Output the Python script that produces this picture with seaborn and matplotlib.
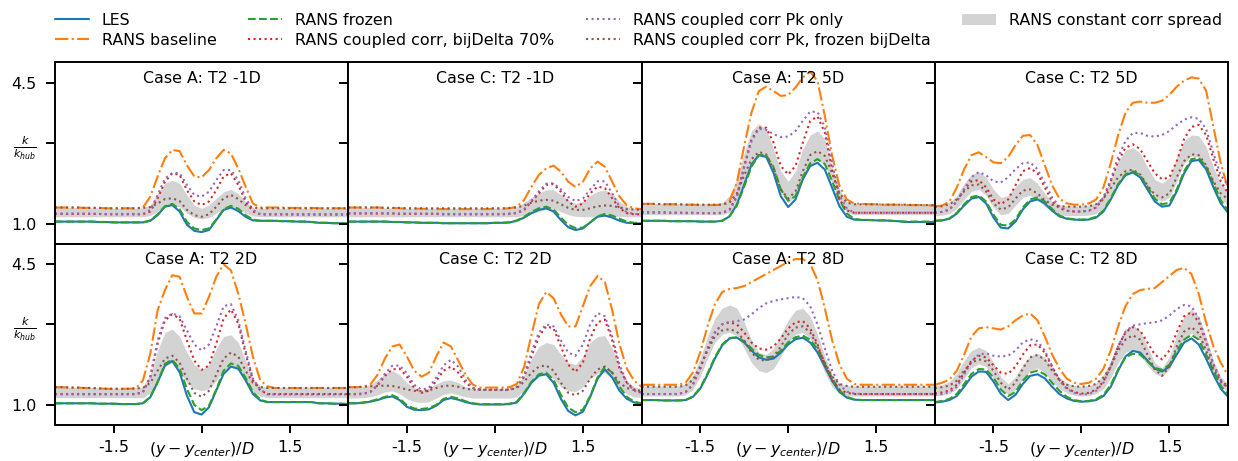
import numpy as np
import matplotlib
matplotlib.use("Agg")
import matplotlib.pyplot as plt
import seaborn as sns

# ---------------- data ----------------
X = np.linspace(-2.5, 2.5, 41)

TITLES = ["Case A: T2 -1D", "Case C: T2 -1D", "Case A: T2 5D", "Case C: T2 5D",
          "Case A: T2 2D", "Case C: T2 2D", "Case A: T2 8D", "Case C: T2 8D"]

SERIES = ["LES", "RANS baseline", "RANS frozen", "RANS coupled corr, bijDelta 70%",
          "RANS coupled corr Pk only", "RANS coupled corr Pk, frozen bijDelta"]
SPREAD_LABEL = "RANS constant corr spread"

# Panel 1: Case A, T2 -1D
A_M1_LES = [1.05,1.05,1.05,1.05,1.05,1.05,1.04,1.04,1.03,1.03,1.03,1.03,1.03,1.07,1.21,1.42,1.46,1.30,0.97,0.82,0.79,0.84,1.09,1.34,1.40,1.31,1.17,1.08,1.07,1.07,1.07,1.06,1.06,1.05,1.05,1.04,1.02,1.02,1.01,1.01,1.00]
A_M1_BASE = [1.40,1.40,1.40,1.40,1.39,1.39,1.39,1.38,1.38,1.38,1.38,1.38,1.40,1.67,2.17,2.62,2.83,2.80,2.45,2.17,2.15,2.33,2.62,2.83,2.74,2.37,1.92,1.50,1.40,1.40,1.40,1.40,1.39,1.39,1.39,1.39,1.38,1.38,1.38,1.38,1.38]
A_M1_FROZ = [1.05,1.05,1.05,1.05,1.05,1.05,1.04,1.04,1.03,1.03,1.03,1.03,1.03,1.08,1.23,1.43,1.49,1.36,1.04,0.88,0.84,0.88,1.10,1.36,1.44,1.37,1.21,1.10,1.07,1.07,1.07,1.06,1.06,1.05,1.05,1.04,1.02,1.02,1.01,1.01,1.00]
A_M1_BIJ = [1.24,1.24,1.24,1.24,1.24,1.24,1.24,1.23,1.23,1.23,1.23,1.23,1.23,1.30,1.63,2.04,2.25,2.21,1.83,1.55,1.46,1.55,1.83,2.17,2.25,1.96,1.55,1.30,1.23,1.23,1.23,1.23,1.23,1.23,1.23,1.23,1.23,1.23,1.23,1.23,1.23]
A_M1_PK = [1.25,1.25,1.25,1.25,1.25,1.25,1.24,1.24,1.24,1.24,1.24,1.24,1.24,1.34,1.71,2.12,2.26,2.25,1.96,1.71,1.67,1.79,2.08,2.33,2.33,2.08,1.63,1.34,1.23,1.23,1.23,1.23,1.23,1.22,1.22,1.22,1.22,1.22,1.22,1.22,1.22]
A_M1_PKF = [1.40,1.40,1.40,1.40,1.39,1.39,1.39,1.38,1.38,1.38,1.38,1.38,1.39,1.41,1.50,1.61,1.63,1.56,1.34,1.21,1.17,1.23,1.42,1.63,1.71,1.61,1.46,1.40,1.38,1.38,1.38,1.38,1.38,1.38,1.38,1.38,1.38,1.38,1.38,1.38,1.38]
A_M1_LO = [1.17,1.17,1.17,1.17,1.17,1.17,1.17,1.17,1.17,1.17,1.17,1.17,1.17,1.20,1.30,1.42,1.46,1.42,1.26,1.15,1.12,1.15,1.26,1.38,1.42,1.38,1.26,1.19,1.17,1.17,1.17,1.17,1.17,1.17,1.17,1.17,1.17,1.17,1.17,1.17,1.17]
A_M1_HI = [1.40,1.40,1.40,1.40,1.39,1.39,1.39,1.38,1.38,1.38,1.38,1.38,1.39,1.46,1.75,2.00,2.08,2.00,1.71,1.46,1.38,1.46,1.63,1.79,1.85,1.75,1.55,1.40,1.38,1.38,1.38,1.38,1.38,1.38,1.38,1.38,1.38,1.38,1.38,1.38,1.38]

# Panel 2: Case C, T2 -1D
C_M1_LES = [1.05,1.05,1.05,1.05,1.05,1.05,1.04,1.04,1.03,1.03,1.02,1.02,1.02,1.01,1.01,1.01,1.01,1.01,1.01,1.01,1.02,1.02,1.03,1.07,1.15,1.26,1.34,1.38,1.30,1.09,0.91,0.84,0.88,1.03,1.17,1.20,1.15,1.07,1.02,1.01,1.00]
C_M1_BASE = [1.40,1.40,1.40,1.40,1.40,1.39,1.39,1.38,1.37,1.37,1.37,1.36,1.36,1.36,1.36,1.36,1.36,1.36,1.36,1.36,1.37,1.37,1.38,1.42,1.59,1.92,2.21,2.37,2.44,2.29,2.04,1.91,2.04,2.37,2.54,2.41,2.04,1.67,1.45,1.38,1.36]
C_M1_FROZ = [1.05,1.05,1.05,1.05,1.05,1.05,1.04,1.04,1.03,1.03,1.02,1.02,1.02,1.01,1.01,1.01,1.01,1.01,1.01,1.01,1.02,1.02,1.03,1.08,1.17,1.29,1.38,1.42,1.35,1.15,0.97,0.89,0.90,1.03,1.18,1.24,1.20,1.12,1.05,1.02,1.01]
C_M1_BIJ = [1.25,1.25,1.25,1.25,1.25,1.25,1.25,1.24,1.24,1.24,1.24,1.24,1.24,1.23,1.23,1.23,1.23,1.23,1.23,1.23,1.23,1.23,1.24,1.26,1.34,1.55,1.75,1.96,1.98,1.79,1.55,1.42,1.50,1.75,1.92,1.88,1.63,1.38,1.26,1.23,1.23]
C_M1_PK = [1.26,1.26,1.26,1.26,1.26,1.26,1.26,1.25,1.25,1.25,1.25,1.25,1.25,1.24,1.24,1.24,1.24,1.24,1.24,1.24,1.24,1.24,1.25,1.27,1.36,1.58,1.80,1.99,2.00,1.85,1.66,1.56,1.62,1.85,2.05,2.05,1.75,1.42,1.28,1.24,1.23]
C_M1_PKF = [1.40,1.40,1.40,1.40,1.40,1.39,1.39,1.39,1.38,1.38,1.38,1.38,1.38,1.38,1.38,1.38,1.38,1.38,1.38,1.38,1.38,1.38,1.39,1.40,1.45,1.52,1.57,1.59,1.57,1.48,1.39,1.34,1.34,1.38,1.43,1.45,1.44,1.40,1.36,1.35,1.34]
C_M1_LO = [1.17,1.17,1.17,1.17,1.17,1.17,1.17,1.17,1.17,1.17,1.17,1.17,1.17,1.17,1.17,1.17,1.17,1.17,1.17,1.17,1.17,1.17,1.17,1.17,1.20,1.25,1.30,1.35,1.36,1.30,1.22,1.18,1.17,1.17,1.17,1.18,1.18,1.18,1.17,1.17,1.17]
C_M1_HI = [1.40,1.40,1.40,1.40,1.40,1.39,1.39,1.39,1.38,1.38,1.38,1.38,1.38,1.38,1.38,1.38,1.38,1.38,1.38,1.38,1.38,1.38,1.39,1.42,1.52,1.65,1.76,1.84,1.84,1.72,1.58,1.50,1.55,1.70,1.80,1.83,1.75,1.55,1.42,1.38,1.37]

# Panel 3: Case A, T2 5D
A_5_LES = [1.07,1.07,1.07,1.07,1.06,1.06,1.06,1.06,1.05,1.05,1.05,1.07,1.18,1.47,1.97,2.47,2.70,2.66,2.26,1.68,1.41,1.60,2.10,2.43,2.51,2.34,1.89,1.43,1.17,1.10,1.09,1.09,1.08,1.08,1.07,1.06,1.04,1.04,1.04,1.04,1.04]
A_5_BASE = [1.49,1.49,1.49,1.48,1.48,1.48,1.47,1.47,1.46,1.46,1.46,1.47,1.56,2.01,2.93,3.76,4.29,4.40,4.29,4.17,4.19,4.38,4.63,4.77,4.54,3.67,2.68,1.93,1.60,1.50,1.49,1.48,1.48,1.47,1.47,1.47,1.46,1.46,1.46,1.45,1.45]
A_5_FROZ = [1.07,1.07,1.07,1.07,1.06,1.06,1.06,1.06,1.05,1.05,1.05,1.07,1.18,1.45,1.92,2.42,2.70,2.70,2.40,1.85,1.57,1.68,2.15,2.50,2.60,2.48,2.05,1.58,1.25,1.12,1.09,1.09,1.08,1.08,1.07,1.06,1.05,1.05,1.05,1.05,1.05]
A_5_BIJ = [1.28,1.28,1.28,1.28,1.27,1.27,1.27,1.27,1.26,1.26,1.26,1.27,1.35,1.68,2.43,3.09,3.38,3.38,3.01,2.43,2.22,2.43,3.01,3.55,3.66,3.26,2.34,1.60,1.33,1.27,1.27,1.27,1.27,1.27,1.27,1.27,1.27,1.27,1.27,1.27,1.27]
A_5_PK = [1.27,1.27,1.27,1.27,1.27,1.27,1.26,1.26,1.26,1.26,1.26,1.26,1.33,1.65,2.40,3.05,3.35,3.33,3.22,3.15,3.16,3.30,3.55,3.78,3.77,3.40,2.50,1.70,1.38,1.27,1.27,1.27,1.27,1.27,1.27,1.27,1.27,1.27,1.27,1.27,1.27]
A_5_PKF = [1.49,1.49,1.49,1.48,1.48,1.48,1.47,1.47,1.47,1.47,1.47,1.47,1.52,1.75,2.20,2.60,2.78,2.72,2.35,1.85,1.62,1.80,2.30,2.70,2.80,2.68,2.25,1.75,1.52,1.48,1.48,1.48,1.48,1.47,1.47,1.47,1.47,1.46,1.46,1.46,1.46]
A_5_LO = [1.22,1.22,1.22,1.22,1.22,1.22,1.22,1.22,1.22,1.22,1.22,1.22,1.28,1.50,1.95,2.45,2.68,2.62,2.25,1.75,1.52,1.68,2.10,2.45,2.58,2.45,2.00,1.55,1.28,1.22,1.22,1.22,1.22,1.22,1.22,1.22,1.22,1.22,1.22,1.22,1.22]
A_5_HI = [1.50,1.50,1.50,1.50,1.50,1.50,1.50,1.50,1.50,1.50,1.50,1.52,1.70,2.10,2.75,3.30,3.48,3.35,2.85,2.30,2.05,2.30,2.85,3.20,3.30,3.10,2.40,1.85,1.55,1.50,1.50,1.50,1.50,1.50,1.50,1.50,1.50,1.50,1.50,1.50,1.50]

# Panel 4: Case C, T2 5D
C_5_LES = [1.07,1.08,1.12,1.25,1.45,1.62,1.66,1.50,1.15,0.90,0.88,1.05,1.35,1.55,1.60,1.50,1.32,1.18,1.12,1.10,1.09,1.10,1.15,1.30,1.60,1.95,2.20,2.27,2.15,1.85,1.55,1.42,1.45,1.80,2.25,2.55,2.58,2.35,1.90,1.50,1.27]
C_5_BASE = [1.42,1.45,1.55,1.90,2.35,2.70,2.77,2.65,2.52,2.50,2.65,2.95,3.18,3.20,2.95,2.45,1.95,1.62,1.50,1.47,1.47,1.50,1.60,1.90,2.50,3.20,3.75,4.00,4.03,4.00,4.00,4.05,4.20,4.40,4.55,4.63,4.60,4.30,3.40,2.50,1.85]
C_5_FROZ = [1.07,1.08,1.13,1.27,1.48,1.66,1.70,1.55,1.22,0.97,0.95,1.10,1.40,1.60,1.65,1.55,1.36,1.20,1.13,1.11,1.10,1.11,1.17,1.33,1.63,1.98,2.22,2.30,2.20,1.92,1.62,1.48,1.52,1.85,2.30,2.60,2.63,2.42,2.00,1.58,1.32]
C_5_BIJ = [1.27,1.29,1.35,1.55,1.85,2.05,2.08,1.90,1.60,1.48,1.60,1.95,2.30,2.38,2.25,1.90,1.55,1.38,1.32,1.30,1.30,1.32,1.40,1.62,2.05,2.55,2.88,2.97,2.85,2.55,2.25,2.10,2.15,2.55,3.10,3.40,3.45,3.20,2.60,2.05,1.75]
C_5_PK = [1.27,1.29,1.35,1.55,1.85,2.15,2.28,2.20,2.05,2.02,2.15,2.35,2.50,2.52,2.35,2.00,1.65,1.42,1.32,1.30,1.30,1.32,1.40,1.65,2.10,2.65,3.05,3.25,3.25,3.18,3.16,3.20,3.30,3.45,3.58,3.64,3.60,3.35,2.75,2.20,1.95]
C_5_PKF = [1.42,1.43,1.48,1.60,1.80,1.95,1.97,1.80,1.50,1.35,1.40,1.62,1.82,1.85,1.75,1.58,1.47,1.43,1.42,1.42,1.42,1.43,1.48,1.62,1.88,2.15,2.30,2.34,2.22,1.95,1.72,1.65,1.75,2.15,2.55,2.72,2.70,2.45,2.05,1.75,1.60]
C_5_LO = [1.20,1.21,1.25,1.38,1.60,1.80,1.85,1.70,1.40,1.22,1.25,1.45,1.65,1.70,1.60,1.42,1.30,1.22,1.20,1.20,1.20,1.21,1.25,1.40,1.70,2.05,2.25,2.30,2.20,1.90,1.65,1.55,1.65,2.05,2.50,2.68,2.65,2.35,1.90,1.60,1.45]
C_5_HI = [1.45,1.47,1.53,1.70,2.00,2.22,2.29,2.15,1.85,1.65,1.70,1.92,2.10,2.14,2.00,1.75,1.55,1.47,1.45,1.44,1.44,1.46,1.52,1.72,2.10,2.55,2.82,2.89,2.75,2.40,2.10,2.00,2.15,2.65,3.05,3.20,3.18,2.90,2.40,2.00,1.80]

# Panel 5: Case A, T2 2D
A_2_LES = [1.04,1.04,1.04,1.04,1.04,1.04,1.03,1.03,1.03,1.02,1.02,1.02,1.04,1.19,1.56,1.98,2.09,1.81,1.23,0.82,0.76,0.94,1.36,1.77,1.95,1.90,1.61,1.27,1.11,1.07,1.07,1.07,1.07,1.07,1.07,1.07,1.04,1.04,1.03,1.03,1.02]
A_2_BASE = [1.44,1.44,1.43,1.43,1.42,1.42,1.41,1.40,1.40,1.40,1.40,1.41,1.61,2.27,3.35,3.85,4.22,4.18,3.68,3.27,3.27,3.68,4.18,4.49,4.34,3.76,3.02,2.19,1.61,1.46,1.42,1.42,1.42,1.42,1.42,1.42,1.42,1.42,1.42,1.42,1.42]
A_2_FROZ = [1.04,1.04,1.04,1.04,1.04,1.04,1.03,1.03,1.03,1.02,1.02,1.02,1.04,1.20,1.57,2.02,2.12,1.90,1.40,1.00,0.87,0.98,1.38,1.85,2.03,1.97,1.67,1.32,1.13,1.07,1.07,1.07,1.07,1.07,1.07,1.07,1.04,1.04,1.03,1.03,1.02]
A_2_BIJ = [1.27,1.27,1.27,1.27,1.27,1.27,1.27,1.27,1.27,1.27,1.27,1.27,1.32,1.69,2.52,3.10,3.25,3.14,2.60,2.10,1.87,1.98,2.52,3.14,3.37,3.02,2.27,1.61,1.36,1.27,1.27,1.27,1.27,1.27,1.27,1.27,1.27,1.27,1.27,1.27,1.27]
A_2_PK = [1.26,1.26,1.26,1.26,1.26,1.26,1.26,1.26,1.26,1.26,1.26,1.26,1.31,1.70,2.60,3.15,3.27,3.20,2.85,2.50,2.35,2.50,2.95,3.45,3.50,3.10,2.35,1.65,1.38,1.26,1.26,1.26,1.26,1.26,1.26,1.26,1.26,1.26,1.26,1.26,1.26]
A_2_PKF = [1.44,1.44,1.43,1.43,1.42,1.42,1.41,1.40,1.40,1.40,1.40,1.41,1.42,1.55,1.85,2.15,2.22,2.05,1.65,1.30,1.20,1.35,1.75,2.15,2.30,2.20,1.85,1.55,1.44,1.42,1.42,1.42,1.42,1.42,1.42,1.42,1.42,1.42,1.42,1.42,1.42]
A_2_LO = [1.18,1.18,1.18,1.18,1.18,1.18,1.18,1.18,1.18,1.18,1.18,1.18,1.18,1.30,1.60,1.95,2.05,1.85,1.55,1.40,1.35,1.40,1.60,1.85,1.95,1.85,1.55,1.32,1.22,1.18,1.18,1.18,1.18,1.18,1.18,1.18,1.18,1.18,1.18,1.18,1.18]
A_2_HI = [1.44,1.44,1.44,1.44,1.43,1.43,1.43,1.42,1.42,1.42,1.42,1.43,1.45,1.75,2.35,2.80,2.88,2.70,2.30,2.00,1.87,2.00,2.40,2.70,2.74,2.55,2.10,1.65,1.47,1.44,1.44,1.44,1.44,1.44,1.44,1.44,1.44,1.44,1.44,1.44,1.44]

# Panel 6: Case C, T2 2D
C_2_LES = [1.04,1.04,1.05,1.08,1.12,1.18,1.21,1.12,0.95,0.88,0.87,0.89,0.98,1.12,1.17,1.13,1.07,1.03,1.01,1.01,1.01,1.01,1.02,1.06,1.28,1.55,1.73,1.76,1.55,1.15,0.85,0.74,0.83,1.20,1.65,1.88,1.68,1.35,1.15,1.06,1.02]
C_2_BASE = [1.44,1.44,1.45,1.50,1.75,2.15,2.45,2.50,2.20,1.85,1.70,1.80,2.20,2.55,2.45,2.10,1.75,1.50,1.43,1.43,1.43,1.43,1.44,1.52,1.95,2.75,3.50,3.80,3.65,3.25,2.95,2.95,3.45,3.95,4.20,4.05,3.35,2.50,1.90,1.60,1.45]
C_2_FROZ = [1.04,1.04,1.06,1.09,1.14,1.20,1.24,1.16,0.99,0.91,0.90,0.92,1.00,1.15,1.20,1.16,1.09,1.04,1.02,1.02,1.02,1.02,1.03,1.08,1.30,1.58,1.76,1.80,1.62,1.25,0.93,0.82,0.88,1.22,1.68,1.95,1.80,1.45,1.20,1.08,1.04]
C_2_BIJ = [1.27,1.27,1.28,1.32,1.48,1.72,1.88,1.90,1.70,1.42,1.30,1.35,1.60,1.85,1.95,1.80,1.55,1.42,1.38,1.37,1.37,1.37,1.38,1.45,1.70,2.20,2.70,2.95,2.90,2.45,2.00,1.82,2.05,2.65,3.05,3.12,2.60,1.90,1.55,1.38,1.30]
C_2_PK = [1.26,1.26,1.27,1.32,1.50,1.78,1.97,1.98,1.78,1.50,1.38,1.42,1.68,1.98,2.12,1.95,1.62,1.42,1.37,1.37,1.37,1.37,1.37,1.45,1.75,2.30,2.80,3.00,2.95,2.60,2.30,2.22,2.50,3.00,3.28,3.20,2.70,2.00,1.55,1.35,1.30]
C_2_PKF = [1.44,1.44,1.45,1.46,1.47,1.48,1.47,1.43,1.38,1.35,1.34,1.36,1.42,1.47,1.48,1.45,1.40,1.38,1.38,1.38,1.38,1.38,1.38,1.42,1.58,1.80,1.95,1.98,1.85,1.55,1.30,1.24,1.35,1.65,1.88,1.95,1.80,1.55,1.42,1.37,1.35]
C_2_LO = [1.17,1.17,1.18,1.20,1.25,1.32,1.35,1.28,1.15,1.08,1.06,1.08,1.17,1.26,1.30,1.25,1.20,1.17,1.17,1.17,1.17,1.17,1.17,1.20,1.35,1.55,1.70,1.75,1.65,1.45,1.35,1.33,1.45,1.65,1.78,1.80,1.65,1.42,1.27,1.20,1.18]
C_2_HI = [1.44,1.44,1.46,1.50,1.62,1.78,1.85,1.75,1.55,1.42,1.37,1.42,1.52,1.60,1.62,1.55,1.45,1.40,1.40,1.40,1.40,1.40,1.40,1.48,1.75,2.15,2.45,2.55,2.50,2.25,2.05,2.00,2.20,2.55,2.70,2.72,2.40,1.95,1.60,1.45,1.40]

# Panel 7: Case A, T2 8D
A_8_LES = [1.12,1.12,1.12,1.11,1.11,1.11,1.12,1.20,1.40,1.75,2.15,2.48,2.65,2.67,2.55,2.35,2.18,2.12,2.15,2.30,2.50,2.63,2.67,2.55,2.30,1.95,1.60,1.32,1.18,1.13,1.12,1.12,1.12,1.12,1.12,1.12,1.12,1.12,1.12,1.12,1.12]
A_8_BASE = [1.50,1.50,1.50,1.50,1.50,1.50,1.55,1.80,2.30,2.95,3.50,3.80,3.88,3.90,3.95,4.05,4.15,4.25,4.35,4.45,4.55,4.62,4.62,4.50,4.10,3.40,2.60,2.00,1.65,1.52,1.50,1.50,1.50,1.50,1.50,1.50,1.50,1.50,1.50,1.50,1.50]
A_8_FROZ = [1.12,1.12,1.12,1.11,1.11,1.11,1.12,1.21,1.42,1.78,2.18,2.50,2.66,2.68,2.58,2.40,2.24,2.18,2.20,2.35,2.55,2.68,2.72,2.62,2.38,2.02,1.66,1.36,1.20,1.14,1.12,1.12,1.12,1.12,1.12,1.12,1.12,1.12,1.12,1.12,1.12]
A_8_BIJ = [1.27,1.27,1.27,1.27,1.27,1.27,1.32,1.50,1.90,2.40,2.80,3.00,3.05,3.00,2.80,2.55,2.40,2.37,2.45,2.65,2.90,3.05,3.08,2.90,2.50,2.00,1.60,1.38,1.30,1.27,1.27,1.27,1.27,1.27,1.27,1.27,1.27,1.27,1.27,1.27,1.27]
A_8_PK = [1.27,1.27,1.27,1.27,1.27,1.27,1.32,1.50,1.90,2.40,2.80,3.00,3.06,3.08,3.12,3.25,3.40,3.52,3.58,3.62,3.65,3.68,3.65,3.45,3.00,2.40,1.85,1.50,1.33,1.28,1.27,1.27,1.27,1.27,1.27,1.27,1.27,1.27,1.27,1.27,1.27]
A_8_PKF = [1.45,1.45,1.45,1.45,1.45,1.45,1.48,1.62,1.95,2.35,2.70,2.85,2.88,2.82,2.60,2.30,2.12,2.10,2.20,2.45,2.75,2.92,2.95,2.80,2.45,2.05,1.70,1.52,1.47,1.45,1.45,1.45,1.45,1.45,1.45,1.45,1.45,1.45,1.45,1.45,1.45]
A_8_LO = [1.22,1.22,1.22,1.22,1.22,1.22,1.25,1.38,1.70,2.15,2.55,2.75,2.80,2.72,2.40,2.05,1.85,1.80,1.90,2.20,2.55,2.75,2.80,2.65,2.25,1.80,1.45,1.28,1.23,1.22,1.22,1.22,1.22,1.22,1.22,1.22,1.22,1.22,1.22,1.22,1.22]
A_8_HI = [1.47,1.47,1.47,1.47,1.47,1.47,1.52,1.72,2.15,2.70,3.15,3.40,3.48,3.40,3.05,2.60,2.30,2.25,2.40,2.75,3.10,3.35,3.40,3.20,2.75,2.20,1.75,1.52,1.48,1.47,1.47,1.47,1.47,1.47,1.47,1.47,1.47,1.47,1.47,1.47,1.47]

# Panel 8: Case C, T2 8D
C_8_LES = [1.06,1.08,1.12,1.22,1.45,1.70,1.83,1.82,1.58,1.28,1.12,1.25,1.52,1.72,1.76,1.66,1.45,1.27,1.16,1.10,1.08,1.09,1.12,1.22,1.45,1.85,2.20,2.34,2.30,2.10,1.90,1.83,1.95,2.25,2.55,2.65,2.50,2.15,1.75,1.40,1.20]
C_8_BASE = [1.50,1.55,1.63,1.85,2.25,2.70,2.90,2.93,2.90,2.87,2.95,3.10,3.22,3.27,3.10,2.70,2.25,1.90,1.65,1.55,1.52,1.55,1.65,1.90,2.35,2.95,3.45,3.75,3.85,3.88,3.90,4.05,4.20,4.35,4.40,4.25,3.75,3.05,2.45,2.05,1.72]
C_8_FROZ = [1.07,1.10,1.15,1.27,1.52,1.77,1.89,1.88,1.68,1.38,1.22,1.32,1.60,1.80,1.85,1.76,1.55,1.35,1.20,1.12,1.09,1.10,1.14,1.25,1.50,1.88,2.18,2.27,2.25,2.08,1.92,1.87,2.00,2.35,2.62,2.74,2.62,2.25,1.85,1.48,1.25]
C_8_BIJ = [1.29,1.31,1.36,1.50,1.80,2.10,2.22,2.18,1.98,1.80,1.77,1.95,2.25,2.48,2.50,2.30,1.95,1.62,1.42,1.32,1.28,1.30,1.38,1.58,1.95,2.45,2.80,2.93,2.85,2.55,2.25,2.13,2.35,2.80,3.20,3.30,3.05,2.55,2.00,1.62,1.45]
C_8_PK = [1.25,1.27,1.32,1.45,1.75,2.08,2.25,2.28,2.22,2.20,2.22,2.35,2.55,2.63,2.58,2.35,1.95,1.60,1.40,1.30,1.26,1.27,1.35,1.55,1.95,2.45,2.82,2.97,3.00,3.03,3.05,3.10,3.22,3.38,3.48,3.45,3.15,2.60,2.00,1.60,1.40]
C_8_PKF = [1.42,1.44,1.48,1.60,1.85,2.05,2.13,2.08,1.85,1.55,1.38,1.55,1.90,2.18,2.24,2.12,1.85,1.62,1.50,1.46,1.45,1.47,1.52,1.68,1.95,2.35,2.62,2.73,2.62,2.25,1.88,1.72,1.95,2.45,2.82,2.93,2.78,2.35,1.90,1.58,1.43]
C_8_LO = [1.22,1.24,1.28,1.40,1.65,1.92,2.02,1.95,1.65,1.38,1.26,1.38,1.65,1.85,1.92,1.80,1.58,1.40,1.30,1.24,1.22,1.23,1.28,1.40,1.68,2.05,2.30,2.38,2.25,1.98,1.78,1.70,1.88,2.30,2.65,2.78,2.65,2.25,1.80,1.48,1.32]
C_8_HI = [1.47,1.50,1.58,1.78,2.10,2.35,2.43,2.35,2.05,1.70,1.52,1.70,2.00,2.22,2.28,2.18,1.92,1.68,1.55,1.48,1.46,1.48,1.55,1.75,2.10,2.55,2.88,2.98,2.85,2.45,2.05,1.92,2.20,2.75,3.20,3.38,3.20,2.70,2.10,1.70,1.50]

PANELS = [
    (A_M1_LES, A_M1_BASE, A_M1_FROZ, A_M1_BIJ, A_M1_PK, A_M1_PKF, A_M1_LO, A_M1_HI),
    (C_M1_LES, C_M1_BASE, C_M1_FROZ, C_M1_BIJ, C_M1_PK, C_M1_PKF, C_M1_LO, C_M1_HI),
    (A_5_LES, A_5_BASE, A_5_FROZ, A_5_BIJ, A_5_PK, A_5_PKF, A_5_LO, A_5_HI),
    (C_5_LES, C_5_BASE, C_5_FROZ, C_5_BIJ, C_5_PK, C_5_PKF, C_5_LO, C_5_HI),
    (A_2_LES, A_2_BASE, A_2_FROZ, A_2_BIJ, A_2_PK, A_2_PKF, A_2_LO, A_2_HI),
    (C_2_LES, C_2_BASE, C_2_FROZ, C_2_BIJ, C_2_PK, C_2_PKF, C_2_LO, C_2_HI),
    (A_8_LES, A_8_BASE, A_8_FROZ, A_8_BIJ, A_8_PK, A_8_PKF, A_8_LO, A_8_HI),
    (C_8_LES, C_8_BASE, C_8_FROZ, C_8_BIJ, C_8_PK, C_8_PKF, C_8_LO, C_8_HI),
]

XTICKS = [-1.5, 0.0, 1.5]
XTICKLABELS = ["-1.5", r"$(y-y_{center})/D$", "1.5"]
YTICKS = [1.0, 3.0, 4.5]
YTICKLABELS = ["1.0", r"$\frac{k}{k_{hub}}$", "4.5"]

# ---------------- style ----------------
COLORS = ["#1f77b4", "#ff7f0e", "#2ca02c", "#d62728", "#9467bd", "#8c564b"]
LSTYLES = ["-", "-.", "--", ":", ":", ":"]
FS = 11.4

sns.set_style("ticks")
plt.rcParams.update({
    "font.family": ["DejaVu Sans"],
    "mathtext.fontset": "dejavusans",
    "axes.edgecolor": "black",
    "axes.linewidth": 1.4,
    "xtick.color": "black",
    "ytick.color": "black",
    "xtick.major.width": 1.4,
    "ytick.major.width": 1.4,
    "xtick.major.size": 6,
    "ytick.major.size": 6.5,
    "xtick.major.pad": 5,
    "ytick.major.pad": 6.5,
    "xtick.direction": "out",
    "ytick.direction": "out",
    "xtick.labelsize": FS,
    "ytick.labelsize": FS,
    "text.color": "black",
})

fig, axes = plt.subplots(2, 4, figsize=(12.38, 4.61), dpi=100, sharex=True, sharey=True,
                         gridspec_kw=dict(hspace=0, wspace=0))
fig.subplots_adjust(left=0.0444, right=0.992, top=0.8645, bottom=0.078)

for i, ax in enumerate(axes.flat):
    data = PANELS[i]
    first = (i == 0)
    for j in range(6):
        sns.lineplot(x=X, y=np.array(data[j]), ax=ax, color=COLORS[j], linestyle=LSTYLES[j],
                     linewidth=1.5, label=SERIES[j] if first else None, errorbar=None)
    ax.fill_between(X, data[6], data[7], color="#d3d3d3", linewidth=0,
                    label=SPREAD_LABEL if first else None)
    if ax.get_legend() is not None:
        ax.get_legend().remove()
    ax.text(0.5, 0.912, TITLES[i], transform=ax.transAxes, ha="center", va="center",
            fontsize=FS, color="black")
    ax.set_xlim(-2.5, 2.5)
    ax.set_ylim(0.5, 5.0)
    ax.set_xticks(XTICKS)
    ax.set_xticklabels(XTICKLABELS)
    ax.set_yticks(YTICKS)
    ax.set_yticklabels(YTICKLABELS)
    ax.set_xlabel("")
    ax.set_ylabel("")
    if i < 4:
        ax.tick_params(axis="x", bottom=False)

handles, labels = axes.flat[0].get_legend_handles_labels()
fig.legend(handles, labels, loc="upper left", bbox_to_anchor=(0.0393, 0.986), ncol=4,
           frameon=False, fontsize=FS, columnspacing=2.0, handlelength=2.15,
           labelspacing=0.3, borderaxespad=0.0)

fig.savefig("out.png", dpi=100)
